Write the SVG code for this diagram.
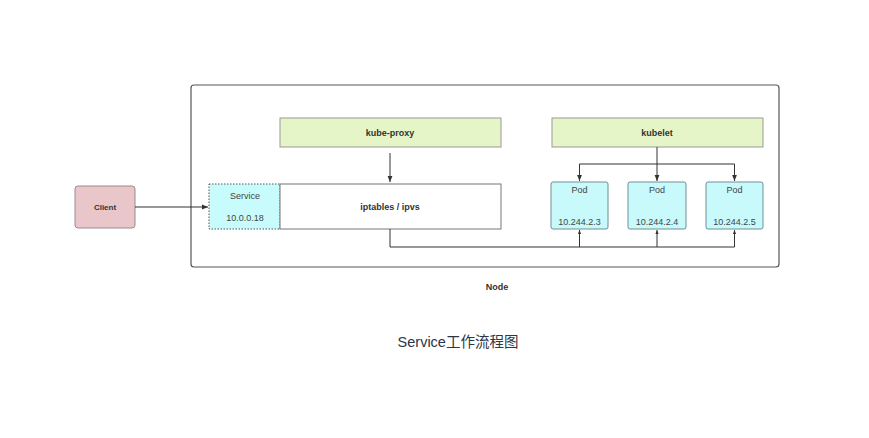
<svg xmlns="http://www.w3.org/2000/svg" width="869" height="438" viewBox="0 0 869 438">
<style>
text{font-family:"Liberation Sans","Noto Sans CJK SC",sans-serif;fill:#333;text-anchor:middle;dominant-baseline:central}
.b{font-weight:bold;font-size:9px}
.n{font-size:9px;fill:#444}
.green{fill:#e6f5c8;stroke:#999;stroke-width:1}
.pod{fill:#c8fafc;stroke:#6f8f95;stroke-width:1}
.ln{fill:none;stroke:#333;stroke-width:1}
</style>
<defs>
<marker id="ah" viewBox="0 0 10 10" refX="10" refY="5" markerWidth="6" markerHeight="6" orient="auto"><path d="M0,1 L10,5 L0,9 z" fill="#333"/></marker>
<marker id="sh" viewBox="0 0 10 10" refX="10" refY="5" markerWidth="4" markerHeight="4" orient="auto"><path d="M0,1 L10,5 L0,9 z" fill="#333"/></marker>
</defs>
<rect width="869" height="438" fill="#fff"/>
<g id="node-box">
<rect x="191" y="85" width="588" height="182" rx="3" fill="#fff" stroke="#555" stroke-width="1.2"/>
<text class="b" x="497" y="287" font-size="8">Node</text>
</g>
<g id="client">
<rect x="75" y="186" width="60" height="42" rx="3" fill="#e8c6ca" stroke="#9a8a8c" stroke-width="1"/>
<text class="b" x="105" y="207" style="font-size:8px">Client</text>
</g>
<g id="service">
<rect x="209" y="184" width="71" height="45" fill="#c8fcfc" stroke="#555" stroke-width="1" stroke-dasharray="1.5,1.5"/>
<text class="n" x="245" y="196">Service</text>
<text class="n" x="245" y="218">10.0.0.18</text>
</g>
<g id="iptables">
<rect x="280" y="184" width="221" height="45" fill="#fff" stroke="#777" stroke-width="1"/>
<text class="b" x="390" y="207">iptables / ipvs</text>
</g>
<g id="kube-proxy">
<rect class="green" x="280" y="118" width="221" height="29"/>
<text class="b" x="390" y="133">kube-proxy</text>
</g>
<g id="kubelet">
<rect class="green" x="552" y="118" width="211" height="29"/>
<text class="b" x="657" y="133">kubelet</text>
</g>
<g id="pod1">
<rect class="pod" x="551" y="182" width="57" height="47" rx="2"/>
<text class="n" x="579.5" y="190">Pod</text>
<text class="n" x="579.5" y="222">10.244.2.3</text>
</g>
<g id="pod2">
<rect class="pod" x="628" y="182" width="58" height="47" rx="2"/>
<text class="n" x="657" y="190">Pod</text>
<text class="n" x="657" y="222">10.244.2.4</text>
</g>
<g id="pod3">
<rect class="pod" x="706" y="182" width="57" height="47" rx="2"/>
<text class="n" x="734.5" y="190">Pod</text>
<text class="n" x="734.5" y="222">10.244.2.5</text>
</g>
<g id="connectors">
<line class="ln" x1="135" y1="207" x2="208" y2="207" stroke-width="1.3" marker-end="url(#ah)"/>
<line class="ln" x1="390" y1="153" x2="390" y2="182" marker-end="url(#ah)"/>
<path class="ln" d="M657,147 V164 H579.5 V181" stroke-width="1.3" marker-end="url(#ah)"/>
<line class="ln" x1="657" y1="164" x2="657" y2="181" stroke-width="1.3" marker-end="url(#ah)"/>
<path class="ln" d="M657,164 H734.5 V181" stroke-width="1.3" marker-end="url(#ah)"/>
<path class="ln" d="M390,229 V247 H734.5" stroke-width="0.8"/>
<line class="ln" x1="579.5" y1="247" x2="579.5" y2="230" stroke-width="0.8" marker-end="url(#sh)"/>
<line class="ln" x1="657" y1="247" x2="657" y2="230" stroke-width="0.8" marker-end="url(#sh)"/>
<line class="ln" x1="734.5" y1="247" x2="734.5" y2="230" stroke-width="0.8" marker-end="url(#sh)"/>
</g>
<text x="458" y="342" style="font-size:14.5px;fill:#2c3646">Service工作流程图</text>
</svg>
